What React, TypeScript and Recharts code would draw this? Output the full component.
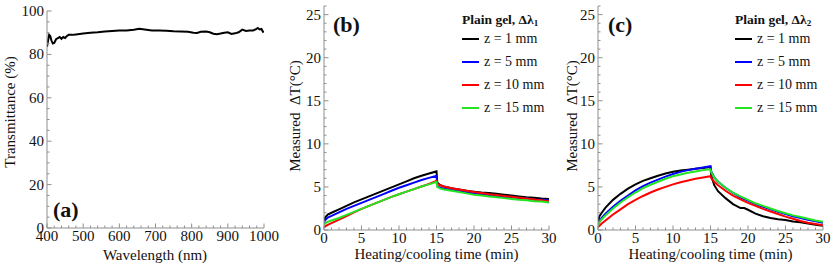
import { LineChart, Line, XAxis, YAxis, Legend, Label } from "recharts";

const FONT = "Liberation Serif, Times New Roman, serif";
const FRAME = "#8f8f8f";

// panel (a): transmittance spectrum
const WAVELENGTH = [
  400, 403, 406, 409, 412, 416, 420, 425, 430, 435, 440, 445, 450, 455, 460, 470, 480, 500, 520, 540, 560,
  580, 600, 620, 640, 655, 670, 690, 710, 730, 750, 770, 790, 805, 815, 825, 840, 850, 860, 870, 880, 890,
  900, 910, 920, 930, 940, 950, 960, 970, 978, 983, 988, 993, 997, 1000,
];
const TRANSMITTANCE = [
  83.5, 86.5, 89.0, 88.5, 86.5, 85.0, 85.3, 87.0, 87.5, 88.0, 87.2, 88.0, 87.6, 88.5, 89.0, 89.0, 89.2, 89.6,
  90.0, 90.2, 90.5, 90.8, 91.0, 91.0, 91.4, 91.8, 91.5, 91.0, 91.0, 90.9, 90.7, 90.6, 90.4, 90.0, 89.9, 90.4,
  90.5, 90.2, 89.5, 89.3, 89.6, 90.0, 90.2, 89.4, 89.7, 90.2, 91.4, 90.8, 91.0, 91.0, 91.6, 92.2, 91.5, 91.7,
  90.4, 90.6,
];

// panel (b): Δλ1 heating / cooling
const TIME_B = [
  0, 0.2, 0.5, 1, 2, 3, 4, 5, 6, 7, 8, 9, 10, 11, 12, 13, 14, 15, 15.1, 15.5, 16, 17, 18, 19, 20, 21, 22, 23,
  24, 25, 26, 27, 28, 29, 30,
];
const B_Z1 = [
  1.0, 1.5, 1.8, 2.0, 2.4, 2.8, 3.2, 3.55, 3.9, 4.25, 4.6, 4.95, 5.3, 5.65, 6.0, 6.3, 6.55, 6.8, 5.5, 5.2, 5.05,
  4.85, 4.7, 4.55, 4.45, 4.35, 4.3, 4.2, 4.1, 4.0, 3.9, 3.8, 3.75, 3.65, 3.6,
];
const B_Z5 = [
  0.8, 1.2, 1.45, 1.65, 2.05, 2.45, 2.8, 3.15, 3.5, 3.85, 4.2, 4.55, 4.9, 5.2, 5.5, 5.8, 6.05, 6.3, 5.1, 4.9, 4.8,
  4.65, 4.5, 4.35, 4.25, 4.15, 4.05, 3.95, 3.85, 3.8, 3.7, 3.65, 3.55, 3.5, 3.45,
];
const B_Z10 = [
  0.3, 0.45, 0.6, 0.8, 1.2, 1.6, 2.05, 2.45, 2.8, 3.15, 3.5, 3.85, 4.15, 4.45, 4.75, 5.05, 5.35, 5.7, 5.35, 5.2,
  5.05, 4.85, 4.7, 4.55, 4.4, 4.3, 4.15, 4.05, 3.95, 3.85, 3.75, 3.65, 3.55, 3.45, 3.35,
];
const B_Z15 = [
  0.6, 0.8, 0.95, 1.1, 1.4, 1.75, 2.1, 2.45, 2.8, 3.15, 3.5, 3.85, 4.15, 4.45, 4.75, 5.05, 5.3, 5.6, 5.0, 4.8,
  4.7, 4.55, 4.4, 4.25, 4.1, 4.0, 3.9, 3.8, 3.7, 3.6, 3.5, 3.45, 3.35, 3.3, 3.2,
];

// panel (c): Δλ2 heating / cooling
const TIME_C = [
  0, 0.2, 0.5, 1, 2, 3, 4, 5, 6, 7, 8, 9, 10, 11, 12, 13, 14, 15, 15.1, 15.5, 16, 17, 18, 19, 19.5, 20, 21, 22,
  23, 24, 25, 26, 27, 28, 29, 30,
];
const C_Z1 = [
  1.0, 1.6, 2.0, 2.6, 3.5, 4.2, 4.8, 5.3, 5.7, 6.0, 6.3, 6.55, 6.75, 6.9, 7.0, 7.1, 7.2, 7.3, 6.3, 5.2, 4.5, 3.7,
  3.0, 2.55, 2.55, 2.35, 1.9, 1.6, 1.4, 1.25, 1.15, 1.0, 0.9, 0.75, 0.6, 0.5,
];
const C_Z5 = [
  0.7, 1.0, 1.4, 1.9, 2.7, 3.4, 4.0, 4.6, 5.1, 5.5, 5.85, 6.2, 6.5, 6.75, 6.95, 7.1, 7.25, 7.4, 6.8, 6.1, 5.6,
  4.9, 4.3, 3.8, 3.6, 3.4, 3.0, 2.7, 2.4, 2.1, 1.85, 1.6, 1.4, 1.2, 1.0, 0.85,
];
const C_Z10 = [
  0.3, 0.5, 0.75, 1.1, 1.8, 2.4, 3.0, 3.5, 3.95, 4.35, 4.7, 5.0, 5.3, 5.55, 5.75, 5.95, 6.1, 6.25, 6.0, 5.6, 5.2,
  4.55, 4.0, 3.55, 3.35, 3.15, 2.8, 2.45, 2.15, 1.85, 1.55, 1.3, 1.05, 0.85, 0.7, 0.55,
];
const C_Z15 = [
  0.6, 0.9, 1.25, 1.7, 2.5, 3.2, 3.8, 4.35, 4.85, 5.25, 5.6, 5.95, 6.25, 6.45, 6.65, 6.8, 6.95, 7.05, 6.7, 6.1,
  5.6, 4.9, 4.35, 3.9, 3.7, 3.5, 3.1, 2.8, 2.5, 2.2, 1.95, 1.7, 1.5, 1.3, 1.1, 0.95,
];

const SERIES_NAMES = ["z = 1 mm", "z = 5 mm", "z = 10 mm", "z = 15 mm"];
const SERIES_COLORS = ["#000000", "#0000ff", "#ff0000", "#22e622"];

const WL_MAJOR = [400, 500, 600, 700, 800, 900, 1000];
const T_MAJOR = [0, 20, 40, 60, 80, 100];
const TIME_MAJOR = [0, 5, 10, 15, 20, 25, 30];
const DT_MAJOR = [0, 5, 10, 15, 20, 25];

const steps = (from: number, to: number, step: number) => {
  const out: number[] = [];
  for (let v = from; v <= to + 1e-9; v += step) out.push(v);
  return out;
};

const WL_TICKS = steps(400, 1000, 20);
const T_TICKS = steps(0, 100, 5);
const TIME_TICKS = steps(0, 30, 1);
const DT_TICKS = steps(0, 26, 1);

type Side = "bottom" | "left" | "top" | "right";

function makeTick(side: Side, major: number[], labels: boolean) {
  return (props: any) => {
    const { x, y, payload } = props;
    const v = payload.value;
    const isMajor = major.some((m) => Math.abs(m - v) < 1e-6);
    const len = isMajor ? 4.5 : 2.5;
    let line = { x1: x, y1: y, x2: x, y2: y };
    if (side === "bottom") line = { x1: x, y1: y, x2: x, y2: y - len };
    if (side === "top") line = { x1: x, y1: y, x2: x, y2: y + len };
    if (side === "left") line = { x1: x, y1: y, x2: x + len, y2: y };
    if (side === "right") line = { x1: x, y1: y, x2: x - len, y2: y };
    const textStyle = { fontFamily: FONT, fontSize: 15, fill: "#111" };
    return (
      <g>
        <line {...line} stroke={FRAME} strokeWidth={1} />
        {labels && isMajor && side === "bottom" && (
          <text x={x} y={y + 13} textAnchor="middle" style={textStyle}>
            {v}
          </text>
        )}
        {labels && isMajor && side === "left" && (
          <text x={x - 3} y={y + 5} textAnchor="end" style={textStyle}>
            {v}
          </text>
        )}
      </g>
    );
  };
}

const titleText = (x: number, y: number, text: string, rotate = false) => () => (
  <text
    x={x}
    y={y}
    textAnchor="middle"
    style={{ fontFamily: FONT, fontSize: 15, fill: "#111", whiteSpace: "pre" }}
    transform={rotate ? `rotate(-90 ${x} ${y})` : undefined}
  >
    {text}
  </text>
);

const renderLegend = (sub: string) => (props: any) => {
  const items = [...(props.payload || [])].sort(
    (a: any, b: any) => SERIES_NAMES.indexOf(a.value) - SERIES_NAMES.indexOf(b.value)
  );
  return (
    <div style={{ fontFamily: FONT, color: "#111", lineHeight: 1 }}>
      <div style={{ height: 14, fontSize: 13.5, fontWeight: "bold", whiteSpace: "nowrap" }}>
        Plain gel, Δλ<sub style={{ fontSize: 9, verticalAlign: -2 }}>{sub}</sub>
      </div>
      {items.map((item: any) => (
        <div key={item.value} style={{ height: 23, display: "flex", alignItems: "center", fontSize: 14 }}>
          <span style={{ display: "inline-block", width: 17, height: 2, background: item.color, marginRight: 5 }} />
          <span style={{ whiteSpace: "nowrap" }}>{item.value}</span>
        </div>
      ))}
    </div>
  );
};

const panelLabel = (left: number, top: number, text: string) => (
  <div
    style={{
      position: "absolute",
      left,
      top,
      fontFamily: FONT,
      fontWeight: "bold",
      fontSize: 22,
      color: "#111",
      lineHeight: 1,
    }}
  >
    {text}
  </div>
);

const aRows = WAVELENGTH.map((w, i) => ({ w, t: TRANSMITTANCE[i] }));
const bRows = TIME_B.map((t, i) => ({ t, s0: B_Z1[i], s1: B_Z5[i], s2: B_Z10[i], s3: B_Z15[i] }));
const cRows = TIME_C.map((t, i) => ({ t, s0: C_Z1[i], s1: C_Z5[i], s2: C_Z10[i], s3: C_Z15[i] }));

function TimePanel({ rows, sub, width, yWidth, right, legendLeft, titleX }: any) {
  return (
    <LineChart width={width} height={273} data={rows} margin={{ top: 6, right, bottom: 0, left: 0 }}>
      <XAxis
        xAxisId="b"
        dataKey="t"
        type="number"
        domain={[0, 30]}
        allowDataOverflow
        ticks={TIME_TICKS}
        interval={0}
        tickSize={0}
        tickMargin={0}
        tickLine={false}
        axisLine={{ stroke: FRAME }}
        tick={makeTick("bottom", TIME_MAJOR, true)}
        height={43}
      >
        <Label content={titleText(yWidth + 112.5, 259, "Heating/cooling time (min)")} />
      </XAxis>
      <XAxis
        xAxisId="t"
        orientation="top"
        type="number"
        domain={[0, 30]}
        allowDataOverflow
        ticks={TIME_TICKS}
        interval={0}
        tickSize={0}
        tickMargin={0}
        tickLine={false}
        axisLine={{ stroke: FRAME }}
        tick={makeTick("top", TIME_MAJOR, false)}
        height={0}
      />
      <YAxis
        yAxisId="l"
        type="number"
        domain={[0, 26]}
        allowDataOverflow
        ticks={DT_TICKS}
        interval={0}
        tickSize={0}
        tickMargin={0}
        tickLine={false}
        axisLine={{ stroke: FRAME }}
        tick={makeTick("left", DT_MAJOR, true)}
        width={yWidth}
      >
        <Label content={titleText(titleX, 116, "Measured\u00a0\u00a0ΔT(°C)", true)} />
      </YAxis>
      <YAxis
        yAxisId="r"
        orientation="right"
        type="number"
        domain={[0, 26]}
        allowDataOverflow
        ticks={DT_TICKS}
        interval={0}
        tickSize={0}
        tickMargin={0}
        tickLine={false}
        axisLine={{ stroke: FRAME }}
        tick={makeTick("right", DT_MAJOR, false)}
        width={0}
      />
      {SERIES_NAMES.map((name, i) => (
        <Line
          key={name}
          xAxisId="b"
          yAxisId="l"
          dataKey={`s${i}`}
          name={name}
          stroke={SERIES_COLORS[i]}
          strokeWidth={2}
          dot={false}
          type="linear"
          isAnimationActive={false}
        />
      ))}
      <Legend
        layout="vertical"
        align="center"
        verticalAlign="middle"
        content={renderLegend(sub)}
        wrapperStyle={{ left: legendLeft, top: 13, width: 95, height: 110 }}
      />
    </LineChart>
  );
}

export default function App() {
  return (
    <div
      style={{
        position: "absolute",
        left: 0,
        top: 0,
        width: 831,
        height: 273,
        background: "#fff",
        fontFamily: FONT,
      }}
    >
      <div style={{ position: "absolute", left: 0, top: 0 }}>
        <LineChart width={280} height={273} data={aRows} margin={{ top: 11, right: 16, bottom: 0, left: 0 }}>
          <XAxis
            xAxisId="b"
            dataKey="w"
            type="number"
            domain={[400, 1000]}
            allowDataOverflow
            ticks={WL_TICKS}
            interval={0}
            tickSize={0}
            tickMargin={0}
            tickLine={false}
            axisLine={{ stroke: FRAME }}
            tick={makeTick("bottom", WL_MAJOR, true)}
            height={45}
          >
            <Label content={titleText(155, 260, "Wavelength (nm)")} />
          </XAxis>
          <XAxis
            xAxisId="t"
            orientation="top"
            type="number"
            domain={[400, 1000]}
            allowDataOverflow
            ticks={WL_TICKS}
            interval={0}
            tickSize={0}
            tickMargin={0}
            tickLine={false}
            axisLine={{ stroke: FRAME }}
            tick={makeTick("top", WL_MAJOR, false)}
            height={0}
          />
          <YAxis
            yAxisId="l"
            type="number"
            domain={[0, 100]}
            allowDataOverflow
            ticks={T_TICKS}
            interval={0}
            tickSize={0}
            tickMargin={0}
            tickLine={false}
            axisLine={{ stroke: FRAME }}
            tick={makeTick("left", T_MAJOR, true)}
            width={47}
          >
            <Label content={titleText(15, 112, "Transmittance (%)", true)} />
          </YAxis>
          <YAxis
            yAxisId="r"
            orientation="right"
            type="number"
            domain={[0, 100]}
            allowDataOverflow
            ticks={T_TICKS}
            interval={0}
            tickSize={0}
            tickMargin={0}
            tickLine={false}
            axisLine={{ stroke: FRAME }}
            tick={makeTick("right", T_MAJOR, false)}
            width={0}
          />
          <Line
            xAxisId="b"
            yAxisId="l"
            dataKey="t"
            stroke="#000"
            strokeWidth={2}
            dot={false}
            type="linear"
            isAnimationActive={false}
          />
        </LineChart>
        {panelLabel(53, 199, "(a)")}
      </div>
      <div style={{ position: "absolute", left: 280, top: 0 }}>
        <TimePanel rows={bRows} sub="1" width={280} yWidth={44} right={11} legendLeft={182} titleX={20} />
        {panelLabel(53, 14, "(b)")}
      </div>
      <div style={{ position: "absolute", left: 556, top: 0 }}>
        <TimePanel rows={cRows} sub="2" width={275} yWidth={42} right={8} legendLeft={179} titleX={21} />
        {panelLabel(52, 14, "(c)")}
      </div>
    </div>
  );
}
